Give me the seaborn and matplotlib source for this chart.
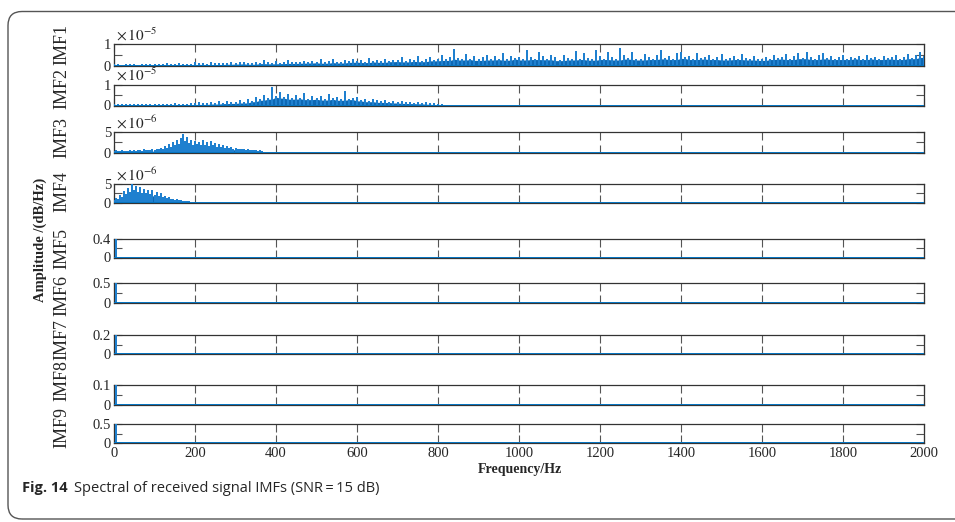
import numpy as np
import pandas as pd
import matplotlib
matplotlib.use("Agg")
import matplotlib.pyplot as plt
import seaborn as sns
from matplotlib.patches import FancyBboxPatch
from matplotlib.transforms import IdentityTransform

# ---------------- data ----------------
imf_names = ["IMF1", "IMF2", "IMF3", "IMF4", "IMF5", "IMF6", "IMF7", "IMF8", "IMF9"]
x_ticks = [0, 200, 400, 600, 800, 1000, 1200, 1400, 1600, 1800, 2000]

# IMF1, units of 1e-5, 0..2000 Hz step 10
imf1_freq = list(range(0, 2001, 10))
imf1_vals = [
    0.03, 0.05, 0.02, 0.04, 0.06, 0.03, 0.02, 0.05, 0.04, 0.03,
    0.06, 0.04, 0.03, 0.08, 0.05, 0.04, 0.07, 0.03, 0.05, 0.06,
    0.12, 0.08, 0.10, 0.06, 0.14, 0.09, 0.07, 0.11, 0.08, 0.13,
    0.09, 0.12, 0.16, 0.10, 0.08, 0.15, 0.11, 0.22, 0.12, 0.10,
    0.18, 0.11, 0.14, 0.24, 0.12, 0.16, 0.13, 0.20, 0.14, 0.17,
    0.15, 0.26, 0.13, 0.18, 0.30, 0.16, 0.14, 0.22, 0.17, 0.28,
    0.18, 0.24, 0.16, 0.33, 0.19, 0.22, 0.17, 0.30, 0.20, 0.25,
    0.21, 0.36, 0.19, 0.28, 0.22, 0.40, 0.20, 0.26, 0.35, 0.24,
    0.30, 0.45, 0.26, 0.38, 0.75, 0.32, 0.28, 0.50, 0.30, 0.42,
    0.26, 0.36, 0.48, 0.28, 0.40, 0.30, 0.55, 0.27, 0.44, 0.33,
    0.38, 0.28, 0.70, 0.35, 0.30, 0.62, 0.40, 0.29, 0.48, 0.36,
    0.25, 0.45, 0.32, 0.28, 0.66, 0.30, 0.55, 0.34, 0.27, 0.70,
    0.40, 0.30, 0.62, 0.35, 0.28, 0.78, 0.45, 0.32, 0.60, 0.30,
    0.28, 0.52, 0.36, 0.30, 0.46, 0.68, 0.33, 0.40, 0.30, 0.56,
    0.60, 0.35, 0.42, 0.30, 0.55, 0.32, 0.38, 0.48, 0.30, 0.36,
    0.50, 0.28, 0.34, 0.44, 0.30, 0.52, 0.33, 0.28, 0.40, 0.30,
    0.26, 0.38, 0.30, 0.46, 0.32, 0.36, 0.52, 0.30, 0.42, 0.55,
    0.34, 0.62, 0.36, 0.30, 0.48, 0.58, 0.33, 0.40, 0.30, 0.36,
    0.45, 0.30, 0.38, 0.34, 0.42, 0.30, 0.48, 0.33, 0.36, 0.30,
    0.40, 0.32, 0.36, 0.46, 0.30, 0.35, 0.52, 0.34, 0.48, 0.62,
    0.40,
]

# IMF2, units of 1e-5
imf2_freq = list(range(0, 821, 10)) + [2000]
imf2_vals = [
    0.02, 0.03, 0.01, 0.02, 0.03, 0.02, 0.01, 0.03, 0.02, 0.02,
    0.03, 0.02, 0.04, 0.03, 0.02, 0.05, 0.03, 0.04, 0.03, 0.05,
    0.06, 0.10, 0.05, 0.08, 0.12, 0.07, 0.15, 0.09, 0.18, 0.10,
    0.14, 0.22, 0.12, 0.28, 0.18, 0.35, 0.25, 0.45, 0.30, 0.85,
    0.40, 0.60, 0.35, 0.50, 0.30, 0.45, 0.32, 0.55, 0.28, 0.40,
    0.30, 0.42, 0.26, 0.48, 0.30, 0.35, 0.25, 0.62, 0.28, 0.32,
    0.38, 0.22, 0.28, 0.18, 0.25, 0.20, 0.15, 0.22, 0.14, 0.18,
    0.12, 0.16, 0.10, 0.14, 0.09, 0.12, 0.08, 0.10, 0.06, 0.08,
    0.04, 0.02, 0.0,
    0.0,
]

# IMF3, units of 1e-6
imf3_freq = list(range(0, 371, 5)) + [2000]
imf3_vals = [
    0.2, 0.3, 0.1, 0.2, 0.3, 0.2, 0.1, 0.2, 0.3, 0.2,
    0.3, 0.2, 0.4, 0.3, 0.2, 0.5, 0.3, 0.4, 0.3, 0.5,
    0.4, 0.7, 0.5, 0.9, 0.6, 1.4, 0.8, 1.8, 1.0, 2.2,
    1.5, 2.8, 1.8, 3.2, 4.2, 2.5, 3.5, 2.0, 2.8, 1.6,
    2.6, 1.8, 2.4, 1.5, 2.9, 1.7, 2.2, 1.4, 2.5, 1.6,
    2.0, 1.2, 1.8, 1.0, 1.5, 0.9, 1.3, 0.8, 1.1, 0.7,
    0.9, 0.6, 0.7, 0.5, 0.6, 0.4, 0.5, 0.3, 0.4, 0.3,
    0.3, 0.2, 0.3, 0.1, 0.0,
    0.0,
]

# IMF4, units of 1e-6
imf4_freq = list(range(0, 191, 5)) + [2000]
imf4_vals = [
    0.5, 1.0, 0.8, 1.8, 1.2, 2.8, 2.0, 3.6, 2.5, 4.6,
    3.0, 4.2, 2.6, 3.8, 2.4, 3.5, 2.2, 3.0, 2.0, 3.2,
    1.8, 2.6, 1.5, 2.2, 1.2, 1.6, 0.9, 1.1, 0.7, 0.8,
    0.5, 0.6, 0.4, 0.3, 0.2, 0.2, 0.1, 0.05, 0.0,
    0.0,
]

# IMF5..IMF9: a single spike at ~0 Hz
low_freq = [0, 4, 8, 2000]
imf5_vals = [0.0, 0.38, 0.0, 0.0]
imf6_vals = [0.0, 0.48, 0.0, 0.0]
imf7_vals = [0.0, 0.19, 0.0, 0.0]
imf8_vals = [0.0, 0.095, 0.0, 0.0]
imf9_vals = [0.0, 0.48, 0.0, 0.0]

y_tops = [1, 1, 5, 5, 0.4, 0.5, 0.2, 0.1, 0.5]
y_top_labels = ["1", "1", "5", "5", "0.4", "0.5", "0.2", "0.1", "0.5"]
offset_texts = [r"$\times\,10^{-5}$", r"$\times\,10^{-5}$", r"$\times\,10^{-6}$", r"$\times\,10^{-6}$",
                None, None, None, None, None]

series = [
    (imf1_freq, imf1_vals), (imf2_freq, imf2_vals), (imf3_freq, imf3_vals), (imf4_freq, imf4_vals),
    (low_freq, imf5_vals), (low_freq, imf6_vals), (low_freq, imf7_vals), (low_freq, imf8_vals),
    (low_freq, imf9_vals),
]

# ---------------- layout ----------------
sns.set_theme(style="white")
plt.rcParams["font.family"] = ["Liberation Serif", "DejaVu Serif"]
plt.rcParams["mathtext.fontset"] = "stix"

W, H = 955, 522
fig = plt.figure(figsize=(W / 100, H / 100), dpi=100)
fig.patch.set_facecolor("white")

rows_px = [(44.5, 66), (84.5, 105.5), (132, 152.5), (184, 202.5), (239, 257.5),
           (283, 303), (335, 354), (385, 405), (424, 443)]
label_y = [1.02, 0.79, 0.71, 0.57, 0.5, 0.4, 0.74, 1.2, 0.79]
left_px, right_px = 114, 924
blue = "#1F80CF"
dark_blue = "#0060B0"
spine_c = "#333333"


def spike_frame(freq, vals):
    """Each spectral bin drawn as a vertical stroke from the axis to its value."""
    xs, ys = [], []
    for f, v in zip(freq, vals):
        xs += [f, f, f]
        ys += [0.0, v, 0.0]
    return pd.DataFrame({"f": xs, "a": ys})


axes = []
for i, (top, bot) in enumerate(rows_px):
    ax = fig.add_axes([left_px / W, 1 - bot / H, (right_px - left_px) / W, (bot - top) / H])
    axes.append(ax)
    freq, vals = series[i]
    s = pd.Series(vals, index=freq)
    floor = s.rolling(3, center=True, min_periods=1).min()
    ax.fill_between(floor.index, 0, floor.values, color=dark_blue, alpha=0.95, linewidth=0)
    sns.lineplot(data=spike_frame(freq, vals), x="f", y="a", ax=ax, color=blue,
                 linewidth=1.3, estimator=None, sort=False, zorder=3)
    ax.axhline(0, color="#0072BD", linewidth=1.2, zorder=3)
    ax.set_xlim(0, 2000)
    ax.set_ylim(0, y_tops[i])
    ax.set_xticks(x_ticks)
    ax.set_yticks([0, y_tops[i] / 2, y_tops[i]])
    ax.set_yticklabels(["0", "", y_top_labels[i]], fontsize=10.5)
    if i < 8:
        ax.set_xticklabels([])
    else:
        ax.set_xticklabels([str(t) for t in x_ticks], fontsize=10.5)
    ax.tick_params(axis="x", direction="in", top=True, bottom=True, length=5.5,
                   width=0.8, color="#555555", pad=3)
    ax.tick_params(axis="y", direction="in", left=True, right=True, length=5.5,
                   width=0.8, color="#555555", pad=2)
    for sp in ax.spines.values():
        sp.set_color(spine_c)
        sp.set_linewidth(0.9)
    ax.set_xlabel("")
    ax.set_ylabel(imf_names[i], fontsize=13)
    ax.yaxis.set_label_coords(-0.054, label_y[i])
    ax.grid(False)
    if offset_texts[i]:
        ax.text(0.003, 1.02, offset_texts[i], transform=ax.transAxes, ha="left", va="bottom",
                fontsize=11)

fig.text(520 / W, 1 - 469 / H, "Frequency/Hz", ha="center", va="center",
         fontsize=10, fontweight="bold")
fig.text(40 / W, 1 - 240 / H, "Amplitude /(dB/Hz)", ha="center", va="center",
         rotation=90, fontsize=10.5, fontweight="bold")

# caption
fig.text(22 / W, 1 - 488 / H, "Fig. 14", ha="left", va="center", fontsize=10.5,
         fontweight="bold", family=["Open Sans", "DejaVu Sans"])
fig.text(74 / W, 1 - 488 / H, "Spectral of received signal IMFs (SNR\u2009=\u200915 dB)",
         ha="left", va="center", fontsize=10.5, family=["Open Sans", "DejaVu Sans"])

# rounded frame
frame = FancyBboxPatch((8, H - 519), 980, 519 - 11.5, boxstyle="round,pad=0,rounding_size=14",
                       transform=IdentityTransform(), facecolor="none", edgecolor="#555555",
                       linewidth=1.0, clip_on=False)
fig.patches.append(frame)

fig.savefig("out.png", dpi=100)
